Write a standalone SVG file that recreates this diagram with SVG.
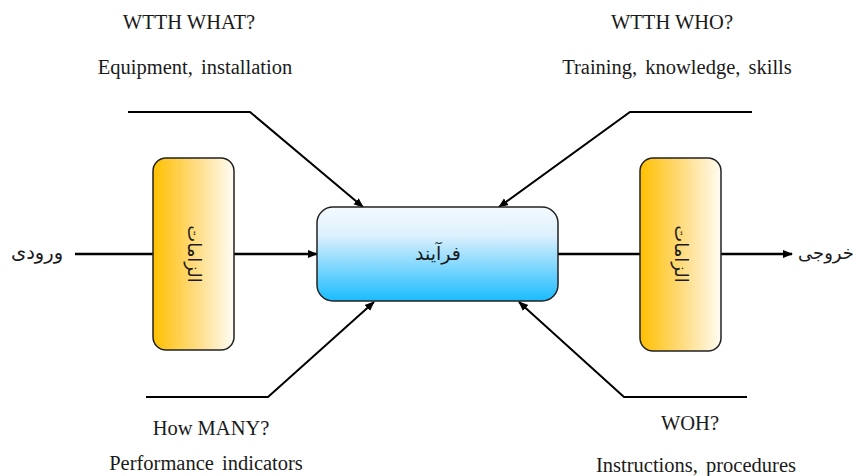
<svg xmlns="http://www.w3.org/2000/svg" width="857" height="476" viewBox="0 0 857 476">
  <style>
    .lbl { font-family: "Liberation Serif", "Times New Roman", serif; font-size: 20.5px; fill: #1a1a1a; text-anchor: middle; }
    .fa { font-family: "DejaVu Sans", "Noto Sans", sans-serif; font-size: 18px; fill: #1a1a1a; text-anchor: middle; }
    .req { stroke: #222; stroke-width: 1.5; fill: url(#gold); }
    .proc { stroke: #222; stroke-width: 1.5; fill: url(#sky); }
    .flow { stroke: #000; stroke-width: 2.5; fill: none; }
    .tie { stroke: #000; stroke-width: 2; fill: none; }
  </style>
  <defs>
    <linearGradient id="gold" x1="0" y1="0" x2="1" y2="0">
      <stop offset="0" stop-color="#FFC000"/>
      <stop offset="0.5" stop-color="#FFDA7A"/>
      <stop offset="1" stop-color="#FFFCF4"/>
    </linearGradient>
    <linearGradient id="sky" x1="0" y1="0" x2="0" y2="1">
      <stop offset="0" stop-color="#F4FAFF"/>
      <stop offset="0.3" stop-color="#DDF0FD"/>
      <stop offset="1" stop-color="#1ABCFF"/>
    </linearGradient>
    <marker id="head" viewBox="0 0 10 10" refX="9" refY="5" markerWidth="10" markerHeight="10" markerUnits="userSpaceOnUse" orient="auto">
      <path d="M0,1 L10,5 L0,9 z" fill="#000"/>
    </marker>
  </defs>

  <!-- labels of the four controls -->
  <text class="lbl" x="189" y="29">WTTH WHAT?</text>
  <text class="lbl" x="195" y="74" word-spacing="3">Equipment, installation</text>
  <text class="lbl" x="672" y="29">WTTH WHO?</text>
  <text class="lbl" x="677" y="74" word-spacing="3">Training, knowledge, skills</text>
  <text class="lbl" x="211" y="435">How MANY?</text>
  <text class="lbl" x="206" y="470" word-spacing="3">Performance indicators</text>
  <text class="lbl" x="690" y="430">WOH?</text>
  <text class="lbl" x="696" y="472" word-spacing="3">Instructions, procedures</text>

  <!-- connectors -->
  <g id="connectors">
    <line class="flow" x1="75" y1="254" x2="153" y2="254"/>
    <line class="flow" x1="234" y1="254" x2="317" y2="254" marker-end="url(#head)"/>
    <line class="flow" x1="558" y1="254" x2="640" y2="254"/>
    <line class="flow" x1="721" y1="254" x2="792" y2="254" marker-end="url(#head)"/>
    <polyline class="tie" points="128,112 250,112 363,207" marker-end="url(#head)"/>
    <polyline class="tie" points="752,112 630,112 499,207" marker-end="url(#head)"/>
    <polyline class="tie" points="146,397 268,397 374,302" marker-end="url(#head)"/>
    <polyline class="tie" points="747,397 624,397 519,302" marker-end="url(#head)"/>
  </g>

  <!-- input / output -->
  <g id="input">
    <text class="fa" x="37" y="259" style="font-size:19.5px">ورودی</text>
  </g>
  <g id="output">
    <text class="fa" x="826" y="259">خروجی</text>
  </g>

  <!-- requirement bars -->
  <g id="req-left">
    <rect class="req" x="153" y="158" width="81" height="192" rx="13"/>
    <text class="fa" transform="translate(193.5 254) rotate(90)" y="6">الزامات</text>
  </g>
  <g id="req-right">
    <rect class="req" x="640" y="158" width="81" height="193" rx="13"/>
    <text class="fa" transform="translate(680.5 254) rotate(90)" y="6">الزامات</text>
  </g>

  <!-- process -->
  <g id="process">
    <rect class="proc" x="317" y="207" width="241" height="94" rx="16"/>
    <text class="fa" x="438" y="260" style="font-size:19px">فرآیند</text>
  </g>
</svg>
